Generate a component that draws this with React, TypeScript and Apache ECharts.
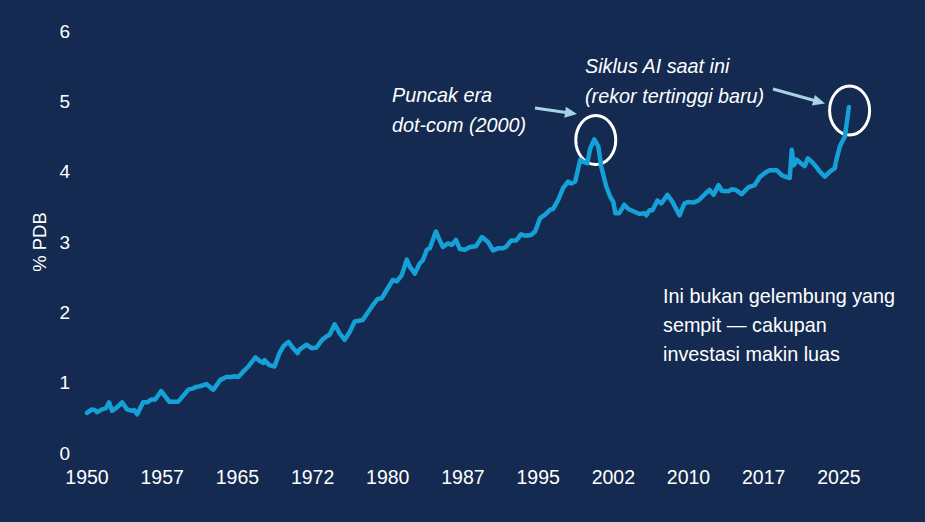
import React, { useEffect, useRef } from "react";
import * as echarts from "echarts";

const years = [
  1950.0, 1950.5, 1950.8, 1951.0, 1951.5, 1951.9, 1952.2, 1952.5, 1953.0, 1953.5,
  1954.0, 1954.5, 1954.7, 1955.0, 1955.6, 1956.0, 1956.4, 1956.8, 1957.4, 1958.2,
  1959.1, 1959.4, 1960.1, 1960.6, 1960.9, 1961.3, 1961.9, 1962.6, 1963.3, 1963.9,
  1964.4, 1964.8, 1965.1, 1965.6, 1966.1, 1966.8, 1967.2, 1967.6, 1967.7, 1968.2,
  1968.7, 1969.2, 1969.6, 1970.1, 1970.5, 1971.0, 1971.2, 1971.9, 1972.4, 1972.9,
  1973.4, 1973.9, 1974.2, 1974.7, 1975.2, 1975.7, 1976.2, 1976.7, 1977.5, 1978.4,
  1979.0, 1979.4, 1980.5, 1980.9, 1981.4, 1981.9, 1982.2, 1982.7, 1983.2, 1983.5,
  1983.9, 1984.2, 1984.8, 1985.1, 1985.5, 1986.0, 1986.4, 1986.8, 1987.2, 1987.7,
  1988.2, 1988.8, 1989.4, 1990.0, 1990.5, 1991.0, 1991.5, 1991.8, 1992.3, 1992.8,
  1993.3, 1993.7, 1994.3, 1994.7, 1995.2, 1995.7, 1996.2, 1996.5, 1997.0, 1997.5,
  1998.0, 1998.3, 1998.7, 1999.2, 1999.5, 1999.9, 2000.2, 2000.6, 2001.0, 2001.3,
  2001.8, 2002.2, 2002.5, 2002.7, 2003.1, 2003.6, 2004.0, 2004.6, 2005.1, 2005.6,
  2005.8, 2006.1, 2006.4, 2006.9, 2007.3, 2007.9, 2008.4, 2008.8, 2009.1, 2009.6,
  2010.0, 2010.5, 2011.0, 2011.7, 2012.1, 2012.5, 2013.0, 2013.3, 2014.0, 2014.3,
  2014.7, 2015.3, 2016.0, 2016.6, 2017.1, 2017.6, 2018.1, 2018.8, 2019.3, 2019.8,
  2020.1, 2020.3, 2020.5, 2020.8, 2021.2, 2021.6, 2021.9, 2022.3, 2022.8, 2023.1,
  2023.6, 2024.1, 2024.6, 2024.7, 2025.1, 2025.6, 2026.0,
];

const pdbShare = [
  0.57, 0.62, 0.61, 0.58, 0.62, 0.64, 0.72, 0.60, 0.65, 0.72,
  0.62, 0.60, 0.61, 0.55, 0.72, 0.72, 0.76, 0.76, 0.88, 0.73,
  0.73, 0.78, 0.90, 0.92, 0.94, 0.95, 0.98, 0.90, 1.04, 1.08,
  1.08, 1.09, 1.08, 1.16, 1.23, 1.36, 1.31, 1.28, 1.32, 1.25,
  1.23, 1.42, 1.52, 1.58, 1.50, 1.42, 1.47, 1.54, 1.49, 1.50,
  1.60, 1.66, 1.68, 1.83, 1.70, 1.61, 1.72, 1.87, 1.89, 2.08,
  2.19, 2.20, 2.46, 2.44, 2.53, 2.75, 2.65, 2.55, 2.70, 2.74,
  2.89, 2.91, 3.15, 3.05, 2.93, 2.98, 2.96, 3.03, 2.90, 2.89,
  2.93, 2.94, 3.07, 3.00, 2.88, 2.91, 2.91, 2.93, 3.02, 3.02,
  3.11, 3.09, 3.10, 3.15, 3.34, 3.39, 3.46, 3.47, 3.60, 3.77,
  3.86, 3.83, 3.86, 4.17, 4.14, 4.12, 4.33, 4.46, 4.36, 4.07,
  3.79, 3.64, 3.57, 3.41, 3.41, 3.53, 3.47, 3.43, 3.40, 3.41,
  3.38, 3.45, 3.45, 3.59, 3.55, 3.67, 3.57, 3.46, 3.38, 3.55,
  3.57, 3.56, 3.59, 3.69, 3.74, 3.67, 3.81, 3.73, 3.72, 3.75,
  3.74, 3.68, 3.78, 3.81, 3.92, 3.98, 4.02, 4.02, 3.95, 3.92,
  3.91, 4.31, 4.09, 4.17, 4.12, 4.08, 4.19, 4.14, 4.06, 4.00,
  3.93, 4.00, 4.05, 4.14, 4.36, 4.50, 4.92,
];

const yAxisTitle = "% PDB";
const dotcomLines = ["Puncak era", "dot-com (2000)"];
const aiLines = ["Siklus AI saat ini", "(rekor tertinggi baru)"];
const noteLines = ["Ini bukan gelembung yang", "sempit — cakupan", "investasi makin luas"];
const dotcomPeak = [2000.75, 4.45];
const aiPeak = [2026.07, 4.87];

const BG = "#142a51";
const LINE = "#15a1d7";
const ARROW = "#a8d3e6";
const FONT = "'Liberation Sans', Arial, sans-serif";

export default function App() {
  const ref = useRef<HTMLDivElement>(null);

  useEffect(() => {
    if (!ref.current) return;
    const chart = echarts.init(ref.current, null, { renderer: "svg" });
    const data = years.map((y, i) => [y, pdbShare[i]]);
    chart.setOption({
      animation: false,
      backgroundColor: BG,
      grid: { left: 87, right: 36, top: 31, bottom: 69 },
      xAxis: {
        type: "value",
        min: 1950,
        max: 2030,
        interval: 7.5,
        axisLine: { show: false },
        axisTick: { show: false },
        splitLine: { show: false },
        axisLabel: {
          color: "#ffffff",
          fontSize: 19.5,
          fontFamily: FONT,
          margin: 14,
          formatter: (v: number) =>
            Math.abs(((v - 1950) / 7.5) - Math.round((v - 1950) / 7.5)) < 1e-6
              ? String(Math.floor(v))
              : "",
        },
      },
      yAxis: {
        type: "value",
        min: 0,
        max: 6,
        interval: 1,
        name: yAxisTitle,
        nameLocation: "middle",
        nameGap: 37,
        nameTextStyle: { color: "#ffffff", fontSize: 18.5, fontFamily: FONT },
        axisLine: { show: false },
        axisTick: { show: false },
        splitLine: { show: false },
        axisLabel: { color: "#ffffff", fontSize: 19, fontFamily: FONT, margin: 17 },
      },
      series: [
        {
          type: "line",
          data,
          showSymbol: false,
          smooth: false,
          lineStyle: { color: LINE, width: 4.5, cap: "round", join: "round" },
        },
      ],
    });

    const p1 = chart.convertToPixel({ gridIndex: 0 }, dotcomPeak) as number[];
    const p2 = chart.convertToPixel({ gridIndex: 0 }, aiPeak) as number[];

    const arrow = (x1: number, y1: number, x2: number, y2: number) => {
      const dx = x2 - x1;
      const dy = y2 - y1;
      const len = Math.sqrt(dx * dx + dy * dy);
      const ux = dx / len;
      const uy = dy / len;
      const hl = 12;
      const hw = 5.5;
      const bx = x2 - ux * hl;
      const by = y2 - uy * hl;
      return [
        {
          type: "line",
          shape: { x1, y1, x2: bx + ux * 1, y2: by + uy * 1 },
          style: { stroke: ARROW, lineWidth: 3 },
        },
        {
          type: "polygon",
          shape: {
            points: [
              [x2, y2],
              [bx - uy * hw, by + ux * hw],
              [bx + uy * hw, by - ux * hw],
            ],
          },
          style: { fill: ARROW },
        },
      ];
    };

    const textStyle = (italic: boolean) => ({
      fill: "#ffffff",
      fontSize: 19.8,
      fontFamily: FONT,
      fontStyle: italic ? "italic" : "normal",
      verticalAlign: "middle",
      align: "left",
    });

    chart.setOption({
      graphic: [
        {
          type: "ellipse",
          shape: { cx: p1[0], cy: p1[1], rx: 20, ry: 24.5 },
          style: { stroke: "#ffffff", lineWidth: 3, fill: "none" },
        },
        {
          type: "ellipse",
          shape: { cx: p2[0], cy: p2[1], rx: 20, ry: 24.5 },
          style: { stroke: "#ffffff", lineWidth: 3, fill: "none" },
        },
        ...arrow(535, 108, 577, 114),
        ...arrow(773, 89, 825, 103.5),
        { type: "text", x: 392, y: 95, style: { text: dotcomLines[0], ...textStyle(true) } },
        { type: "text", x: 392, y: 125, style: { text: dotcomLines[1], ...textStyle(true) } },
        { type: "text", x: 585, y: 66, style: { text: aiLines[0], ...textStyle(true) } },
        { type: "text", x: 585, y: 96, style: { text: aiLines[1], ...textStyle(true) } },
        { type: "text", x: 663, y: 296, style: { text: noteLines[0], ...textStyle(false) } },
        { type: "text", x: 663, y: 325, style: { text: noteLines[1], ...textStyle(false) } },
        { type: "text", x: 663, y: 354, style: { text: noteLines[2], ...textStyle(false) } },
      ],
    });

    return () => chart.dispose();
  }, []);

  return (
    <div
      ref={ref}
      style={{ position: "fixed", left: 0, top: 0, width: 925, height: 522 }}
    />
  );
}
